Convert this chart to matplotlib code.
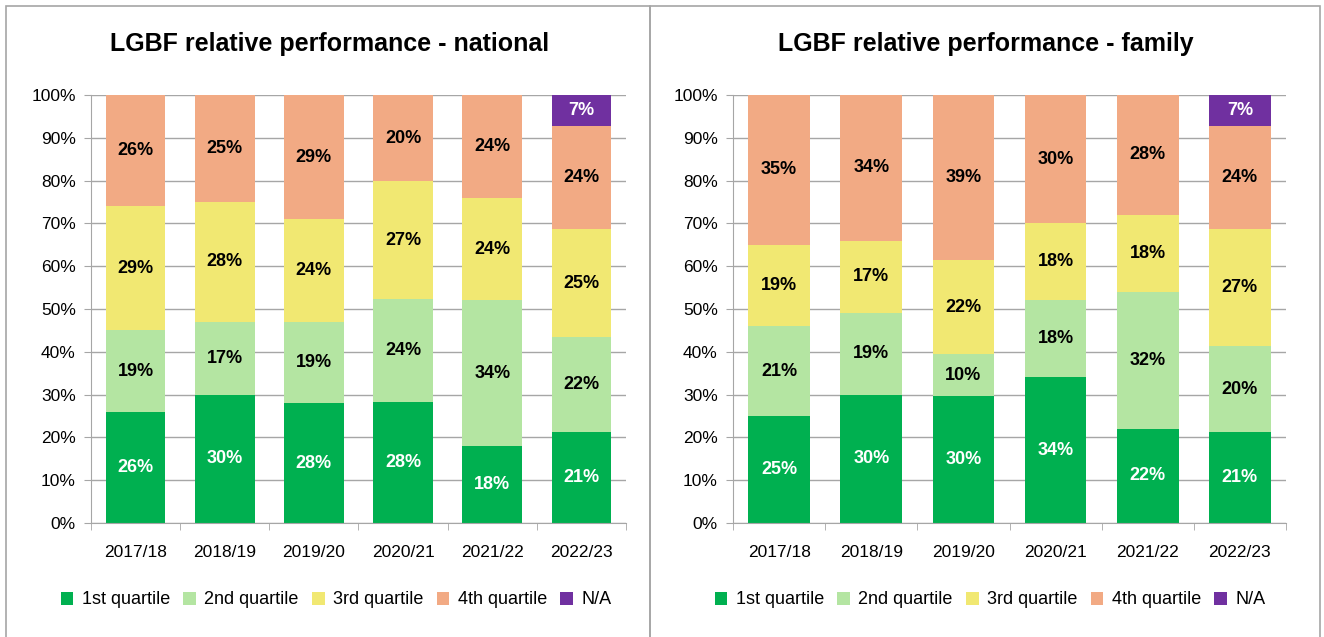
import numpy as np
import matplotlib.pyplot as plt
from matplotlib.patches import Rectangle

plt.rcParams['font.family'] = ['Liberation Sans', 'DejaVu Sans']

years = ['2017/18', '2018/19', '2019/20', '2020/21', '2021/22', '2022/23']
series = ['1st quartile', '2nd quartile', '3rd quartile', '4th quartile', 'N/A']
colors = ['#00B050', '#B4E5A2', '#F1E872', '#F2AA84', '#7030A0']
text_colors = ['white', 'black', 'black', 'black', 'white']

# national
nat_q1 = [26, 30, 28, 28.3, 18, 21.2]
nat_q2 = [19, 17, 19, 24.1, 34, 22.2]
nat_q3 = [29, 28, 24, 27.4, 24, 25.2]
nat_q4 = [26, 25, 29, 20.2, 24, 24.2]
nat_na = [0, 0, 0, 0, 0, 7.2]

# family
fam_q1 = [25, 30, 29.7, 34, 22, 21.2]
fam_q2 = [21, 19, 9.7, 18, 32, 20.2]
fam_q3 = [19, 17, 22, 18, 18, 27.2]
fam_q4 = [35, 34, 38.6, 30, 28, 24.2]
fam_na = [0, 0, 0, 0, 0, 7.2]

W, H = 1324, 637
fig = plt.figure(figsize=(W / 100, H / 100), dpi=100)


def px(x0, y0, x1, y1):
    return [x0 / W, 1 - y1 / H, (x1 - x0) / W, (y1 - y0) / H]


def panel(rect, title, data, title_x, leg_x):
    ax = fig.add_axes(px(*rect))
    x = np.arange(len(years))
    bottom = np.zeros(len(years))
    handles = []
    for vals, c, tc, name in zip(data, colors, text_colors, series):
        vals = np.array(vals, dtype=float)
        b = ax.bar(x, vals, 0.67, bottom=bottom, color=c, zorder=2, label=name)
        handles.append(b)
        for xi, v, bt in zip(x, vals, bottom):
            if v > 0:
                ax.text(xi, bt + v / 2, f'{int(v + 0.5)}%', ha='center', va='center',
                        color=tc, fontsize=13, fontweight='bold', zorder=3)
        bottom += vals
    ax.set_xlim(-0.5, len(years) - 0.5)
    ax.set_ylim(0, 100)
    ax.set_yticks(np.arange(0, 101, 10))
    ax.set_yticklabels([f'{v}%' for v in range(0, 101, 10)], fontsize=12.5)
    ax.yaxis.grid(True, color='#A6A6A6', linewidth=1, zorder=0)
    ax.set_xticks(x)
    ax.set_xticklabels(years, fontsize=12.5)
    ax.tick_params(axis='x', length=0, pad=16)
    ax.set_xticks(np.arange(-0.5, len(years)), minor=True)
    ax.tick_params(axis='x', which='minor', length=5, color='#A6A6A6')
    ax.tick_params(axis='y', length=5, color='#A6A6A6', pad=6)
    for s in ['top', 'right']:
        ax.spines[s].set_visible(False)
    ax.spines['left'].set_color('#A6A6A6')
    ax.spines['bottom'].set_color('#A6A6A6')
    fig.text(title_x / W, 1 - 44 / H, title, ha='center', va='center',
             fontsize=18, fontweight='bold')
    fig.legend(handles=handles, labels=series, loc='center',
               bbox_to_anchor=(leg_x / W, 1 - 600 / H), ncol=5, frameon=False,
               fontsize=13, handlelength=0.7, handleheight=0.7,
               handletextpad=0.45, columnspacing=0.75)
    return ax


nat = [nat_q1, nat_q2, nat_q3, nat_q4, nat_na]
fam = [fam_q1, fam_q2, fam_q3, fam_q4, fam_na]
panel((91, 95, 626, 523), 'LGBF relative performance - national', nat, 330, 336)
panel((733, 95, 1286, 523), 'LGBF relative performance - family', fam, 986, 990)

# panel borders
for x0, x1 in [(6, 650), (650, 1320)]:
    fig.patches.append(Rectangle((x0 / W, 0 - 0.01), (x1 - x0) / W, 1 - 6 / H + 0.01,
                                 transform=fig.transFigure, fill=False,
                                 edgecolor='#A6A6A6', linewidth=1.2))

fig.savefig('out.png', dpi=100)
